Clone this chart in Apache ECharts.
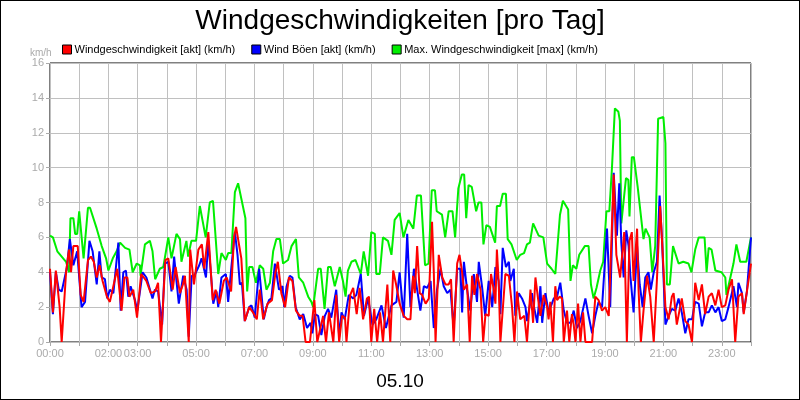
<!DOCTYPE html>
<html>
<head>
  <meta charset="utf-8">
  <title>Windgeschwindigkeiten</title>
  <script src="https://cdn.jsdelivr.net/npm/echarts@6/dist/echarts.min.js"></script>
  <style>
    html, body { margin: 0; padding: 0; background: #fff; }
    #chart { width: 798px; height: 398px; border: 1px solid #000; }
  </style>
</head>
<body>
<div id="chart"></div>
<script>
  // Stunde, km/h
  var shownHours = [0, 2, 3, 5, 7, 9, 11, 13, 15, 17, 19, 21, 23];
  var yTicks = [0, 2, 4, 6, 8, 10, 12, 14, 16];

  var aktData = [[0,4.2],[.1,1.7],[.2,4.1],[.33,2.0],[.4,0],[.55,4.0],[.65,5.3],[.72,4.0],[.8,5.5],[.95,5.5],[1.05,2.7],[1.15,2.3],[1.3,4.7],[1.4,4.9],[1.5,4.6],[1.6,3.7],[1.7,4.4],[1.8,3.5],[1.95,2.6],[2.05,2.3],[2.3,4.2],[2.35,4.3],[2.45,1.8],[2.55,3.7],[2.65,3.7],[2.72,2.6],[2.85,3.0],[2.98,1.4],[3.12,3.9],[3.3,3.5],[3.45,2.8],[3.6,2.9],[3.7,3.4],[3.8,0],[3.95,4.7],[4.05,4.8],[4.2,3.0],[4.3,4.3],[4.45,2.8],[4.55,3.3],[4.62,3.8],[4.75,0],[4.8,5.3],[4.93,3.3],[5.08,5.3],[5.2,5.6],[5.28,4.2],[5.42,6.3],[5.57,2.4],[5.67,3.0],[5.8,2.2],[5.95,3.5],[6.05,3.7],[6.2,2.9],[6.3,6.0],[6.37,6.6],[6.55,4.8],[6.67,1.2],[6.82,2.0],[6.95,1.7],[7.08,1.3],[7.18,3.0],[7.3,1.3],[7.45,2.2],[7.6,2.4],[7.72,4.0],[7.8,4.6],[7.92,2.8],[8.05,2.0],[8.18,3.7],[8.3,3.5],[8.42,1.8],[8.55,1.5],[8.65,1.5],[8.75,0],[8.9,0],[9.05,2.4],[9.15,0],[9.35,1.5],[9.45,0],[9.55,1.7],[9.7,0],[9.8,2.7],[9.9,0],[10.0,1.5],[10.1,1.4],[10.15,0],[10.28,2.7],[10.38,3.1],[10.5,1.6],[10.6,3.1],[10.72,1.3],[10.85,2.5],[10.92,2.6],[11.0,0],[11.1,1.9],[11.2,0],[11.3,1.7],[11.4,0],[11.55,3.3],[11.65,0],[11.75,4.1],[11.85,3.3],[11.97,2.2],
    [12.11,1.5],[12.23,1.3],[12.34,1.3],[12.43,3.8],[12.49,2.8],[12.57,5.5],[12.66,2.8],[12.74,2.7],[12.86,2.2],[12.97,2.5],[13.08,6.9],[13.14,4.0],[13.2,0],[13.31,5.0],[13.43,3.7],[13.54,3.3],[13.65,3.3],[13.73,3.6],[13.82,0],[13.94,4.5],[14.02,5.0],[14.11,4.0],[14.17,3.0],[14.28,3.3],[14.37,0],[14.45,3.8],[14.53,2.7],[14.62,3.9],[14.74,3.0],[14.83,0],[14.91,1.6],[15.02,1.5],[15.1,3.9],[15.19,3.0],[15.25,2.2],[15.3,5.3],[15.36,3.5],[15.42,0],[15.59,3.9],[15.71,3.8],[15.82,2.0],[15.9,0],[15.99,2.9],[16.1,1.3],[16.16,1.4],[16.24,1.5],[16.33,0],[16.45,3.0],[16.54,1.1],[16.62,3.7],[16.7,2.6],[16.79,1.5],[16.9,2.7],[17.02,2.0],[17.07,1.3],[17.13,2.3],[17.22,0],[17.3,3.2],[17.36,2.4],[17.45,2.6],[17.53,2.5],[17.59,0],[17.7,1.8],[17.78,0],[17.87,1.6],[17.93,1.0],[17.99,0],[18.08,2.2],[18.16,0],[18.25,1.7],[18.33,0],[18.44,0],[18.56,0],[18.67,2.6],[18.78,2.4],[18.9,1.8],[19.01,2.0],[19.13,1.5],[19.18,1.6],[19.3,9.6],[19.39,5.0],[19.52,3.7],[19.66,6.3],[19.75,0],[19.84,5.8],[19.92,6.3],[19.98,3.5],[20.1,6.5],[20.15,3.0],[20.23,0],[20.32,1.8],[20.44,3.8],[20.55,2.6],[20.67,0],[20.78,3.6],[20.89,7.8],[21.01,4.0],[21.07,2.0],[21.18,1.3],[21.29,2.6],[21.35,2.8],[21.46,1.0],[21.63,2.5],[21.75,1.2],[21.86,1.0],[21.98,0],[22.09,3.4],[22.21,2.4],[22.32,3.3],[22.43,1.6],[22.55,2.6],[22.66,2.8],[22.78,2.1],[22.89,3.0],[23.0,2.0],[23.12,2.1],[23.23,3.0],[23.35,3.6],[23.46,0],[23.57,2.6],[23.69,2.8],[23.75,1.6],[23.86,2.9],[24,4.5]];

  var boeenData = [[0,4.0],[.1,1.6],[.2,4.0],[.3,3.0],[.4,2.9],[.57,4.2],[.68,5.9],[.8,4.4],[.93,5.2],[1.08,2.0],[1.2,2.3],[1.35,5.8],[1.46,5.2],[1.6,3.3],[1.69,5.2],[1.77,3.7],[1.88,3.6],[1.96,2.5],[2.05,3.0],[2.17,2.8],[2.34,5.7],[2.42,1.8],[2.51,4.0],[2.6,4.1],[2.68,2.6],[2.76,3.2],[2.91,2.4],[2.99,1.8],[3.17,4.0],[3.3,3.7],[3.51,2.5],[3.59,3.0],[3.7,2.9],[3.84,1.0],[3.93,4.5],[4.05,4.6],[4.16,2.9],[4.25,4.9],[4.33,3.5],[4.41,2.2],[4.56,3.8],[4.68,3.0],[4.75,0.3],[4.85,3.8],[4.94,3.8],[5.11,4.4],[5.19,4.8],[5.34,3.7],[5.42,5.8],[5.59,2.2],[5.7,2.9],[5.76,2.0],[5.87,3.7],[6.02,3.9],[6.1,2.3],[6.21,4.3],[6.33,6.3],[6.42,5.0],[6.5,3.3],[6.57,3.4],[6.67,1.2],[6.82,2.0],[6.9,2.1],[7.01,1.4],[7.16,4.2],[7.32,1.3],[7.41,2.0],[7.5,2.4],[7.58,2.5],[7.7,4.5],[7.75,4.5],[7.84,3.0],[7.96,3.2],[8.02,2.0],[8.1,3.2],[8.21,3.8],[8.3,3.7],[8.41,2.0],[8.47,2.1],[8.55,1.3],[8.67,1.6],[8.8,0.8],[8.92,1.1],[8.98,0.5],[9.07,1.6],[9.18,1.5],[9.29,0.4],[9.41,1.5],[9.52,1.9],[9.63,1.4],[9.8,3.0],[9.9,0.3],[9.98,1.7],[10.09,1.3],[10.23,2.7],[10.38,2.5],[10.49,2.7],[10.64,3.9],[10.75,1.5],[10.89,2.5],[11.04,1.0],[11.17,1.3],[11.35,2.1],[11.5,0.8],[11.69,2.1],[11.86,2.3],[11.97,4.0],
    [12.11,1.4],[12.23,6.2],[12.34,2.0],[12.46,4.2],[12.57,3.0],[12.68,1.8],[12.8,3.2],[12.91,3.1],[13.03,3.5],[13.14,0.8],[13.25,3.0],[13.37,4.2],[13.48,3.2],[13.6,2.8],[13.71,3.0],[13.82,0.8],[13.94,4.2],[14.05,4.2],[14.11,1.7],[14.17,4.6],[14.28,3.0],[14.39,1.8],[14.51,3.9],[14.62,2.3],[14.68,4.6],[14.79,3.2],[14.9,1.5],[15.02,3.5],[15.14,2.0],[15.25,4.3],[15.36,3.5],[15.42,1.6],[15.5,5.4],[15.61,4.3],[15.71,4.6],[15.76,3.5],[15.88,4.2],[15.93,1.5],[16.05,2.8],[16.16,2.5],[16.28,2.0],[16.33,1.2],[16.5,2.8],[16.56,2.1],[16.68,1.1],[16.79,3.2],[16.85,1.1],[16.96,2.8],[17.07,1.7],[17.25,2.5],[17.36,2.6],[17.47,3.4],[17.59,1.8],[17.7,1.1],[17.82,1.1],[17.93,1.8],[18.04,0.8],[18.16,1.2],[18.33,2.5],[18.44,1.5],[18.56,0.5],[18.67,1.5],[18.78,2.3],[18.9,2.0],[19.07,6.5],[19.18,2.0],[19.3,9.7],[19.41,6.1],[19.49,9.1],[19.56,5.7],[19.64,3.7],[19.73,6.4],[19.81,5.5],[19.87,3.8],[19.98,1.7],[20.1,5.5],[20.19,3.3],[20.29,2.0],[20.38,3.7],[20.49,4.0],[20.57,3.0],[20.67,4.0],[20.78,4.6],[20.87,8.4],[20.95,6.0],[21.07,1.0],[21.18,1.5],[21.29,1.9],[21.41,1.8],[21.52,2.5],[21.63,1.7],[21.75,0.5],[21.86,1.3],[21.98,1.3],[22.09,2.3],[22.21,2.2],[22.32,0.9],[22.43,1.7],[22.55,1.7],[22.66,2.1],[22.78,1.7],[22.89,2.0],[23.0,1.2],[23.12,1.3],[23.23,2.0],[23.4,3.2],[23.52,2.0],[23.57,3.4],[23.69,2.8],[23.75,1.7],[23.86,2.9],[24,6.0]];

  var maxData = [[0,6.1],[.1,6.0],[.25,5.2],[.4,4.9],[.55,4.6],[.65,4.0],[.7,7.1],[.8,7.1],[.86,6.2],[.93,6.2],[1.0,7.5],[1.15,4.8],[1.3,7.7],[1.37,7.7],[1.6,6.5],[1.77,5.5],[1.92,4.8],[2.0,4.1],[2.15,4.8],[2.28,5.2],[2.4,5.7],[2.57,5.4],[2.72,5.3],[2.83,4.0],[2.97,4.5],[3.08,4.4],[3.1,3.8],[3.25,5.6],[3.42,5.8],[3.51,5.2],[3.6,3.6],[3.76,4.2],[3.88,4.3],[4.05,6.0],[4.16,4.8],[4.33,6.2],[4.45,5.9],[4.5,4.6],[4.67,5.8],[4.73,4.9],[4.84,5.8],[5.0,5.8],[5.13,7.8],[5.19,7.8],[5.33,6.0],[5.47,8.0],[5.58,8.1],[5.76,3.9],[5.87,5.1],[6.02,4.7],[6.1,5.1],[6.21,5.1],[6.33,8.6],[6.44,9.1],[6.5,9.1],[6.69,7.1],[6.75,2.9],[6.82,4.3],[6.93,4.3],[7.05,3.4],[7.18,4.4],[7.3,4.2],[7.41,3.0],[7.53,3.4],[7.64,5.2],[7.75,5.9],[7.87,5.9],[7.98,4.5],[8.15,4.7],[8.27,5.5],[8.42,5.9],[8.52,3.7],[8.67,3.4],[8.84,2.6],[8.95,2.3],[9.01,2.0],[9.18,4.2],[9.27,4.2],[9.4,1.9],[9.52,4.3],[9.61,4.3],[9.75,3.2],[9.92,4.3],[10.03,3.5],[10.12,2.6],[10.2,4.1],[10.32,4.6],[10.46,4.7],[10.64,3.9],[10.74,5.2],[10.89,3.8],[11.0,6.3],[11.12,6.2],[11.17,3.9],[11.29,3.9],[11.4,6.0],[11.57,5.8],[11.69,5.0],[11.8,7.0],[11.97,7.4],
    [12.1,6.0],[12.27,7.0],[12.44,6.5],[12.56,8.4],[12.7,8.4],[12.84,4.4],[12.96,4.5],[13.07,8.7],[13.18,8.7],[13.24,7.5],[13.42,7.3],[13.53,6.0],[13.65,7.5],[13.78,7.5],[13.87,6.0],[13.98,8.8],[14.1,9.6],[14.18,9.6],[14.25,7.1],[14.33,9.0],[14.44,8.9],[14.59,7.5],[14.67,8.0],[14.77,8.0],[14.84,5.6],[14.94,6.7],[15.06,6.6],[15.24,5.7],[15.3,7.8],[15.41,7.8],[15.5,8.5],[15.61,8.5],[15.67,5.9],[15.8,5.6],[15.98,4.7],[16.1,5.0],[16.23,5.1],[16.33,5.6],[16.43,5.7],[16.54,6.8],[16.6,6.8],[16.73,6.1],[16.89,6.0],[17.02,4.5],[17.17,4.2],[17.3,3.9],[17.35,3.9],[17.46,7.3],[17.56,8.1],[17.74,7.6],[17.82,3.5],[17.9,4.4],[18.02,4.2],[18.12,5.0],[18.31,5.5],[18.44,5.5],[18.52,3.3],[18.61,2.5],[18.71,3.1],[18.84,4.1],[18.94,4.6],[19.05,7.5],[19.15,7.5],[19.24,10.0],[19.34,13.4],[19.46,13.2],[19.51,12.7],[19.56,6.8],[19.62,6.8],[19.72,9.4],[19.8,9.3],[19.84,7.2],[19.92,10.6],[19.99,10.6],[20.12,8.9],[20.18,8.8],[20.32,5.9],[20.39,6.5],[20.53,6.0],[20.62,4.0],[20.72,5.5],[20.82,12.8],[21.0,12.9],[21.07,11.4],[21.12,3.3],[21.22,3.3],[21.33,5.5],[21.39,5.5],[21.52,4.5],[21.68,4.6],[21.86,4.5],[21.96,4.0],[22.09,5.3],[22.21,6.0],[22.41,6.0],[22.48,4.0],[22.55,5.4],[22.65,5.3],[22.78,4.1],[22.99,4.0],[23.12,3.7],[23.16,2.7],[23.4,4.5],[23.5,5.6],[23.63,4.6],[23.69,4.5],[23.84,4.6],[24,6.0]];

  var chart = echarts.init(document.getElementById('chart'));
  var labelFont = { color: '#aaaaaa', fontSize: 11, fontFamily: 'Liberation Sans' };

  var option = {
    animation: false,
    textStyle: { fontFamily: 'Liberation Sans' },
    title: [
      { text: 'Windgeschwindigkeiten [pro Tag]', left: 'center', top: 1,
        textStyle: { fontSize: 28, fontWeight: 'normal', color: '#000' } },
      { text: '05.10', left: 'center', top: 366,
        textStyle: { fontSize: 19, fontWeight: 'normal', color: '#000' } },
      { text: 'km/h', left: 24, top: 42,
        textStyle: { fontSize: 10, fontWeight: 'normal', color: '#aaaaaa' } }
    ],
    legend: {
      left: 56, top: 38, itemWidth: 9, itemHeight: 9, itemGap: 16,
      icon: 'rect',
      textStyle: { fontSize: 11, color: '#000', padding: [0, 0, 0, -2] },
      data: [
        { name: 'Windgeschwindigkeit [akt] (km/h)', itemStyle: { borderColor: '#000', borderWidth: 1 } },
        { name: 'Wind Böen [akt] (km/h)', itemStyle: { borderColor: '#000', borderWidth: 1 } },
        { name: 'Max. Windgeschwindigkeit [max] (km/h)', itemStyle: { borderColor: '#000', borderWidth: 1 } }
      ]
    },
    grid: { left: 49, right: 48, top: 62, bottom: 57, show: true, borderColor: '#000', borderWidth: 1 },
    xAxis: {
      type: 'value', min: 0, max: 24, interval: 1,
      axisLine: { show: false },
      axisTick: { show: true, length: 4, lineStyle: { color: '#aaaaaa' } },
      splitLine: { show: true, lineStyle: { color: '#c0c0c0', width: 1 } },
      axisLabel: Object.assign({}, labelFont, {
        margin: 6,
        formatter: function (v) {
          if (shownHours.indexOf(v) < 0) return '';
          return (v < 10 ? '0' : '') + v + ':00';
        }
      })
    },
    yAxis: {
      type: 'value', min: yTicks[0], max: yTicks[yTicks.length - 1], interval: 2,
      axisLine: { show: false },
      axisTick: { show: true, length: 4, lineStyle: { color: '#aaaaaa' } },
      splitLine: { show: true, lineStyle: { color: '#c0c0c0', width: 1 } },
      axisLabel: Object.assign({}, labelFont, { margin: 6 })
    },
    series: [
      { name: 'Max. Windgeschwindigkeit [max] (km/h)', type: 'line', data: maxData, showSymbol: false,
        color: '#00ee00', lineStyle: { width: 2, color: '#00ee00' }, z: 2 },
      { name: 'Wind Böen [akt] (km/h)', type: 'line', data: boeenData, showSymbol: false,
        color: '#0000ff', lineStyle: { width: 2, color: '#0000ff' }, z: 3 },
      { name: 'Windgeschwindigkeit [akt] (km/h)', type: 'line', data: aktData, showSymbol: false,
        color: '#ff0000', lineStyle: { width: 2, color: '#ff0000' }, z: 4 }
    ]
  };
  chart.setOption(option);
</script>
</body>
</html>
